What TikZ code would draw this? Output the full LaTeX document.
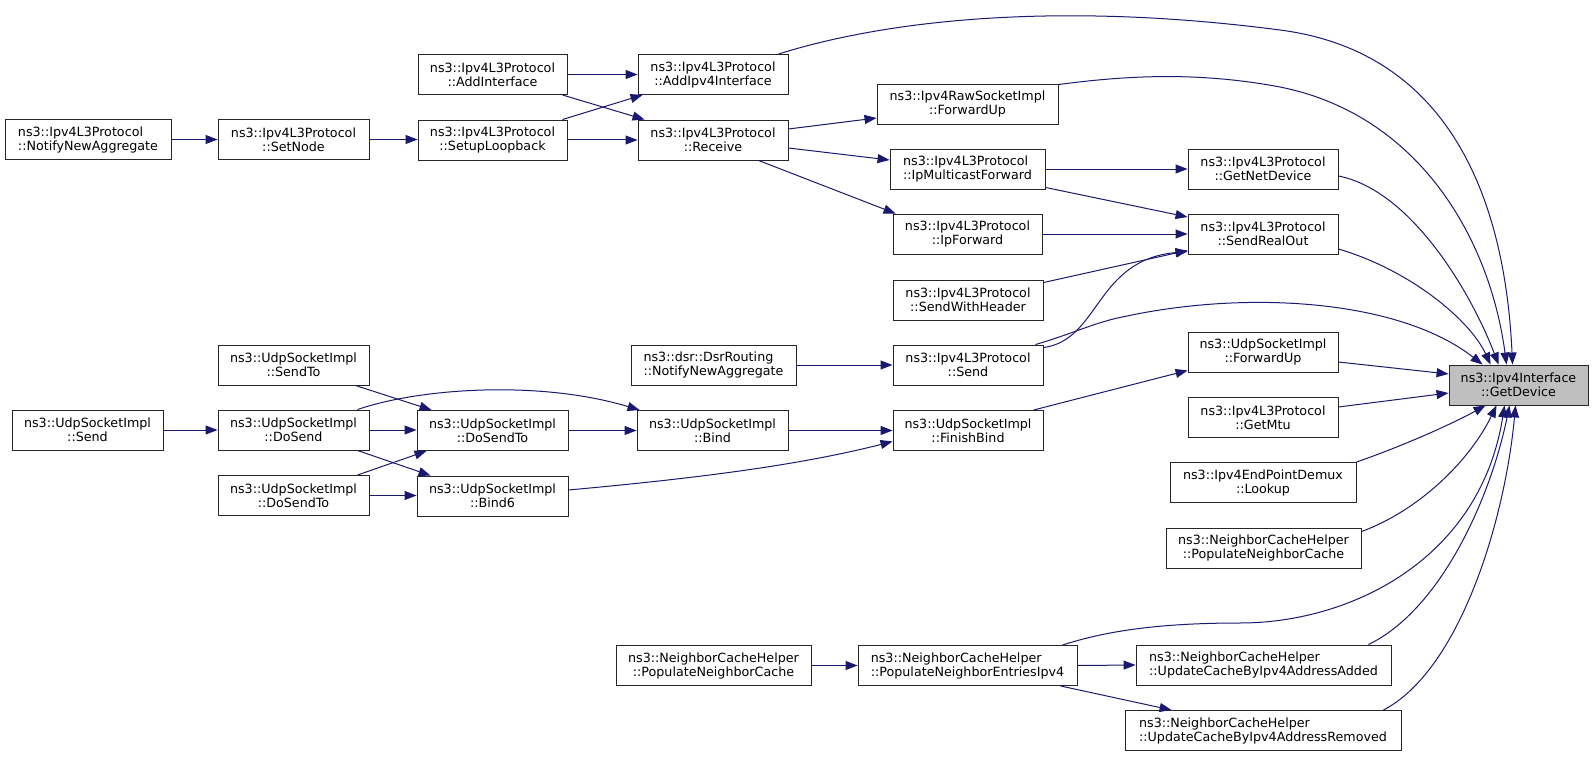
\documentclass[tikz,border=0pt]{standalone}
\usepackage{fontspec}
\setmainfont{DejaVu Sans}
\usetikzlibrary{arrows.meta,calc}
\definecolor{edgeblue}{HTML}{191970}
\definecolor{rootfill}{HTML}{BFBFBF}
\begin{document}
\begin{tikzpicture}[x=1pt,y=-1pt,
  fn/.style={draw=black!85, line width=0.9pt, fill=white, minimum height=40pt, inner xsep=2pt, inner ysep=0pt, align=center, font=\fontsize{12.7}{14}\selectfont},
  fnl/.style={fn, align=left},
  root/.style={fn, fill=rootfill},
  edge/.style={draw=edgeblue, line width=1pt, -{Triangle[length=12pt,width=9pt]}}]
\useasboundingbox (0,0) rectangle (1593,757);

% nodes
\node[fnl, minimum width=166pt] (nna) at (88,139.5) {ns3::Ipv4L3Protocol\\::NotifyNewAggregate};
\node[fn, minimum width=151pt] (setnode) at (293.5,139.5) {ns3::Ipv4L3Protocol\\::SetNode};
\node[fn, minimum width=149pt] (addif) at (492.5,74.5) {ns3::Ipv4L3Protocol\\::AddInterface};
\node[fn, minimum width=149pt] (setuplb) at (492.5,140) {ns3::Ipv4L3Protocol\\::SetupLoopback};
\node[fn, minimum width=150pt] (addipv4if) at (713,74.5) {ns3::Ipv4L3Protocol\\::AddIpv4Interface};
\node[fn, minimum width=150pt] (receive) at (713,140) {ns3::Ipv4L3Protocol\\::Receive};
\node[fn, minimum width=181pt] (rawfwd) at (967.5,104) {ns3::Ipv4RawSocketImpl\\::ForwardUp};
\node[fnl, minimum width=155pt] (ipmcast) at (967.5,169) {ns3::Ipv4L3Protocol\\::IpMulticastForward};
\node[fn, minimum width=150pt] (getnetdev) at (1263,169) {ns3::Ipv4L3Protocol\\::GetNetDevice};
\node[fn, minimum width=149pt] (ipfwd) at (967.5,234) {ns3::Ipv4L3Protocol\\::IpForward};
\node[fn, minimum width=150pt] (sendrealout) at (1263,234) {ns3::Ipv4L3Protocol\\::SendRealOut};
\node[fn, minimum width=150pt] (sendwh) at (968,300) {ns3::Ipv4L3Protocol\\::SendWithHeader};
\node[fn, minimum width=150pt] (ipsend) at (968,365) {ns3::Ipv4L3Protocol\\::Send};
\node[fnl, minimum width=165pt] (dsrnna) at (713.5,365) {ns3::dsr::DsrRouting\\::NotifyNewAggregate};
\node[fn, minimum width=150pt] (udpfwd) at (1263,352) {ns3::UdpSocketImpl\\::ForwardUp};
\node[fn, minimum width=150pt] (getmtu) at (1263,417.5) {ns3::Ipv4L3Protocol\\::GetMtu};
\node[root, minimum width=139pt] (getdevice) at (1518.5,385) {ns3::Ipv4Interface\\::GetDevice};
\node[fn, minimum width=186pt] (lookup) at (1263,482.5) {ns3::Ipv4EndPointDemux\\::Lookup};
\node[fn, minimum width=195pt] (pncR) at (1263.5,548) {ns3::NeighborCacheHelper\\::PopulateNeighborCache};
\node[fn, minimum width=151pt] (sendto) at (293.5,365) {ns3::UdpSocketImpl\\::SendTo};
\node[fn, minimum width=151pt] (udpsend) at (87.5,430) {ns3::UdpSocketImpl\\::Send};
\node[fn, minimum width=151pt] (dosend) at (293.5,430) {ns3::UdpSocketImpl\\::DoSend};
\node[fn, minimum width=151pt] (dosendtoL) at (293.5,495.5) {ns3::UdpSocketImpl\\::DoSendTo};
\node[fn, minimum width=151pt] (dosendtoM) at (492.5,430.5) {ns3::UdpSocketImpl\\::DoSendTo};
\node[fn, minimum width=151pt] (bind6) at (492.5,496) {ns3::UdpSocketImpl\\::Bind6};
\node[fn, minimum width=151pt] (bind) at (712.5,430.5) {ns3::UdpSocketImpl\\::Bind};
\node[fn, minimum width=150pt] (finishbind) at (968,430.5) {ns3::UdpSocketImpl\\::FinishBind};
\node[fn, minimum width=195pt] (pncL) at (713.5,665.5) {ns3::NeighborCacheHelper\\::PopulateNeighborCache};
\node[fnl, minimum width=219pt] (pneipv4) at (967.5,665.5) {ns3::NeighborCacheHelper\\::PopulateNeighborEntriesIpv4};
\node[fnl, minimum width=255pt] (ucadded) at (1263.5,665) {ns3::NeighborCacheHelper\\::UpdateCacheByIpv4AddressAdded};
\node[fnl, minimum width=276pt] (ucremoved) at (1263,730.5) {ns3::NeighborCacheHelper\\::UpdateCacheByIpv4AddressRemoved};

% edges
\draw[edge] (nna.east) -- (setnode.west);
\draw[edge] (setnode.east) -- (setuplb.west |- setnode.east);
\draw[edge] (addif.east) -- (addipv4if.west);
\draw[edge] ($(addif.south east)+(-5,0)$) -- ($(receive.north west)+(7,0)$);
\draw[edge] ($(setuplb.north east)+(-5,0)$) -- ($(addipv4if.south west)+(5,0)$);
\draw[edge] (setuplb.east) -- (receive.west);
\draw[edge] ($(addipv4if.north east)+(-10,0)$) .. controls (880,22) and (1050,0) .. (1280,30)
   .. controls (1450,52) and (1505,200) .. ($(getdevice.north west)+(64,0)$);
\draw[edge] ($(receive.east)+(0,-11)$) -- ($(rawfwd.west)+(0,14)$);
\draw[edge] ($(receive.east)+(0,8)$) -- ($(ipmcast.west)+(0,-9)$);
\draw[edge] ($(receive.south east)+(-30,0)$) -- ($(ipfwd.north west)+(3,0)$);
\draw[edge] ($(rawfwd.north east)+(0,1)$) .. controls (1130,75) and (1200,72) .. (1280,87)
   .. controls (1420,115) and (1490,240) .. ($(getdevice.north west)+(58,0)$);
\draw[edge] (ipmcast.east) -- (getnetdev.west);
\draw[edge] ($(ipmcast.south east)+(0,-2)$) -- ($(sendrealout.west)+(0,-17)$);
\draw[edge] (ipfwd.east) -- (sendrealout.west);
\draw[edge] ($(sendwh.north east)+(0,3)$) -- ($(sendrealout.south west)+(0,-4)$);
\draw[edge] ($(ipsend.north east)+(0,3)$) .. controls (1100,340) and (1095,260) .. ($(sendrealout.south west)+(0,-3)$);
\draw[edge] ($(ipsend.north east)+(-8,0)$) .. controls (1075,333) and (1095,322) .. (1127,316)
   .. controls (1250,290) and (1400,300) .. ($(getdevice.north west)+(34,0)$);
\draw[edge] ($(getnetdev.east)+(0,7)$) .. controls (1410,190) and (1470,290) .. ($(getdevice.north west)+(50,0)$);
\draw[edge] ($(sendrealout.east)+(0,15)$) .. controls (1410,270) and (1470,320) .. ($(getdevice.north west)+(42,0)$);
\draw[edge] (dsrnna.east) -- (ipsend.west);
\draw[edge] ($(udpfwd.east)+(0,10)$) -- ($(getdevice.west)+(0,-11)$);
\draw[edge] ($(finishbind.north east)+(-10,0)$) -- ($(udpfwd.south west)+(0,-2)$);
\draw[edge] ($(getmtu.east)+(0,-10.5)$) -- ($(getdevice.west)+(0,8)$);
\draw[edge] (lookup.north east) .. controls (1400,447) and (1450,425) .. ($(getdevice.south west)+(37,0)$);
\draw[edge] ($(pncR.north east)+(0,4)$) .. controls (1420,510) and (1470,460) .. ($(getdevice.south west)+(48,0)$);
\draw[edge] ($(pneipv4.north east)+(-15,0)$) .. controls (1100,633) and (1150,623) .. (1240,623)
   .. controls (1350,623) and (1480,560) .. ($(getdevice.south west)+(56,0)$);
\draw[edge] ($(ucadded.north east)+(-23,0)$) .. controls (1440,610) and (1490,500) .. ($(getdevice.south west)+(61,0)$);
\draw[edge] ($(ucremoved.north east)+(-18,0)$) .. controls (1460,670) and (1505,520) .. ($(getdevice.south west)+(67,0)$);
\draw[edge] (pncL.east) -- (pneipv4.west);
\draw[edge] (pneipv4.east) -- (ucadded.west);
\draw[edge] ($(pneipv4.south east)+(-17,0)$) -- ($(ucremoved.north west)+(47,0)$);
\draw[edge] (udpsend.east) -- (dosend.west);
\draw[edge] ($(sendto.south east)+(-14,0)$) -- ($(dosendtoM.north west)+(15,0)$);
\draw[edge] ($(dosend.north east)+(-12,0)$) .. controls (420,388) and (540,380) .. ($(bind.north west)+(3,0)$);
\draw[edge] (dosend.east) -- (dosendtoM.west |- dosend.east);
\draw[edge] ($(dosend.south east)+(-12,0)$) -- ($(bind6.north west)+(14,0)$);
\draw[edge] ($(dosendtoL.north east)+(-12,0)$) -- ($(dosendtoM.south west)+(10,0)$);
\draw[edge] (dosendtoL.east) -- (bind6.west |- dosendtoL.east);
\draw[edge] (dosendtoM.east) -- (bind.west);
\draw[edge] (bind.east) -- (finishbind.west);
\draw[edge] ($(bind6.east)+(0,-6)$) .. controls (700,478) and (800,465) .. ($(finishbind.west)+(0,11)$);
\end{tikzpicture}
\end{document}
